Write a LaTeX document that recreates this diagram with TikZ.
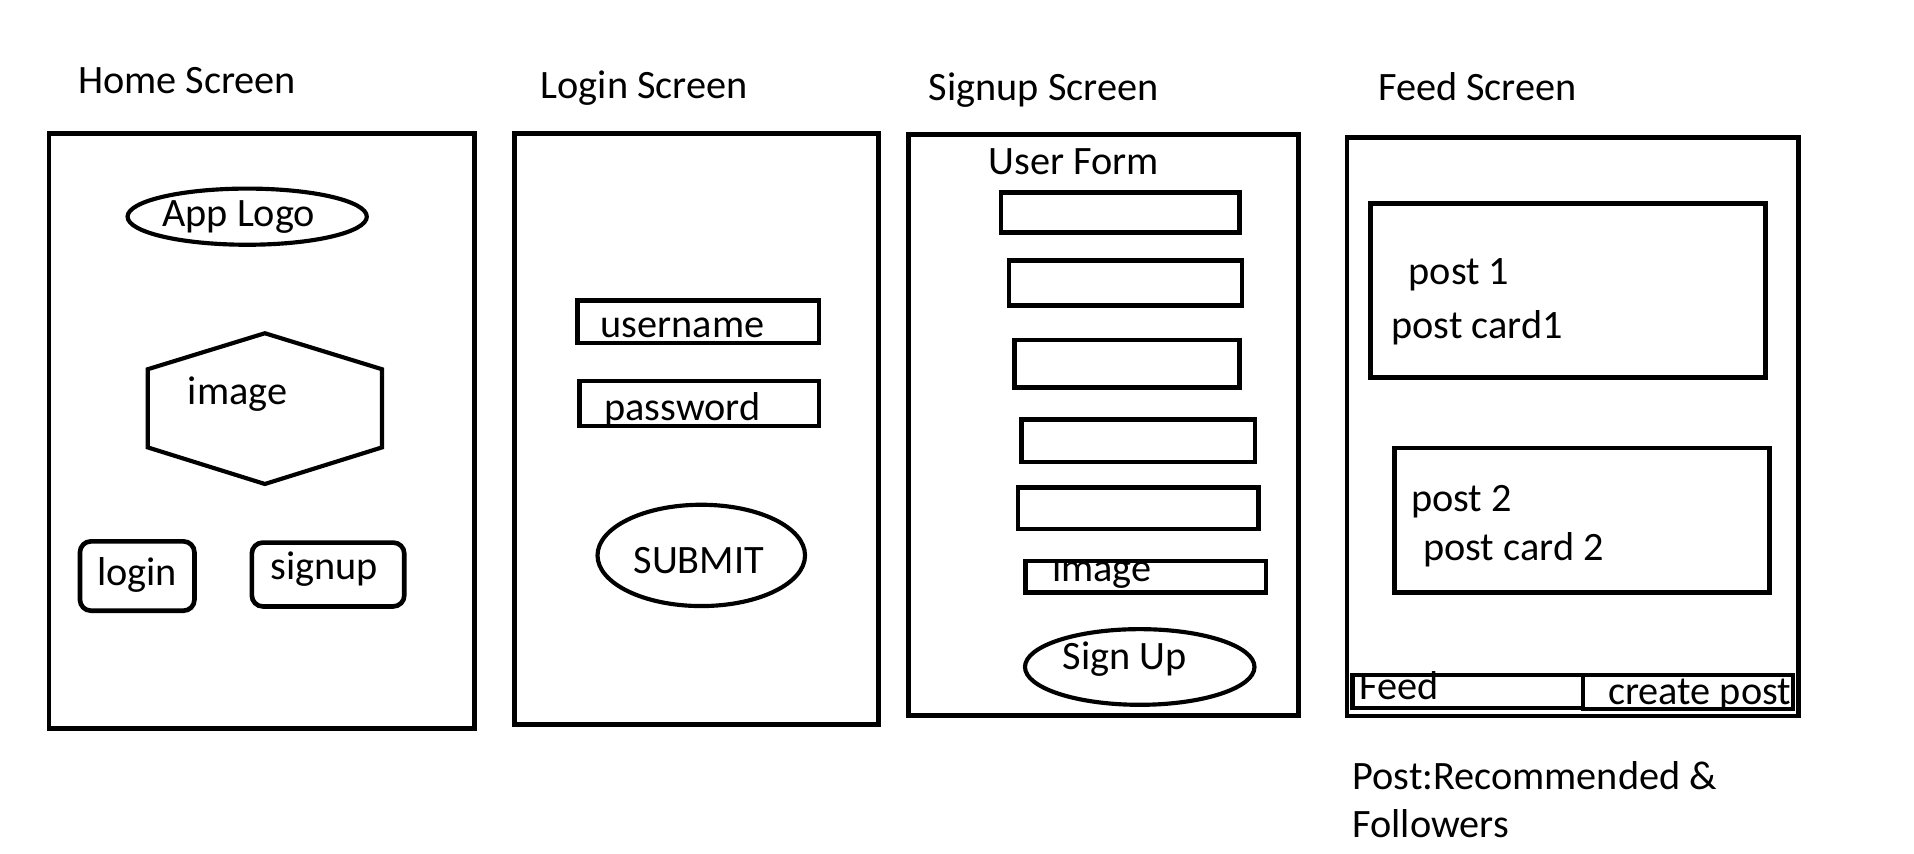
\documentclass[tikz,border=0pt]{standalone}
\usepackage{fontspec}
\setmainfont{Carlito}
\usetikzlibrary{shapes.geometric,fit}
\begin{document}
\begin{tikzpicture}[x=1pt,y=-1pt,
  lbl/.style={anchor=base west,inner sep=0pt,outer sep=0pt,font=\fontsize{33}{39}\selectfont},
  frame/.style={draw,line width=3.8pt,inner sep=0pt,outer sep=0pt},
  field/.style={draw,line width=3.8pt,inner sep=0pt,outer sep=0pt},
  tab/.style={draw,line width=3.4pt,inner sep=0pt,outer sep=0pt},
  pill/.style={field,rounded corners=9pt},
  oval/.style={draw,ellipse,line width=3.4pt,inner sep=0pt,outer sep=0pt},
  ]
\useasboundingbox (0,0) rectangle (1568,699);

% ---------------- Home screen ----------------
\node[lbl] (homeTitle) at (64,77) {Home Screen};
\node[frame,fit={(40,109.5) (388.8,596.6)}] (home) {};
\node[oval,minimum width=196pt,minimum height=46pt] (logo) at (202.5,177.5) {};
\node[lbl] (logoText) at (133,185.7) {App Logo};
\draw[line width=3.4pt,line join=miter]
  (217,273) -- (313,302.5) -- (313,366.5) -- (217,396.5)
  -- (121,366.5) -- (121,302.5) -- cycle;
\node[lbl] (heroText) at (154,331) {image};
\node[pill,fit={(65.5,443.5) (159.3,500.3)}] (loginBtn) {};
\node[lbl] (loginText) at (79.5,480) {login};
\node[pill,fit={(206.3,444.5) (331.2,496.8)}] (signupBtn) {};
\node[lbl] (signupText) at (221.5,475) {signup};

% ---------------- Login screen ----------------
\node[lbl] (loginTitle) at (443,80.5) {Login Screen};
\node[frame,fit={(421.5,109.5) (719.5,593.5)}] (login) {};
\node[field,fit={(473,246) (671,281)}] (userBox) {};
\node[lbl] (userText) at (492,276.5) {username};
\node[field,fit={(474.5,312) (671,349)}] (passBox) {};
\node[lbl] (passText) at (495,344.5) {password};
\node[oval,minimum width=170pt,minimum height=83pt] (submit) at (574.5,455) {};
\node[lbl] (submitText) at (519,469.5) {SUBMIT};

% ---------------- Signup screen ----------------
\node[lbl] (signupTitle) at (761,82.5) {Signup Screen};
\node[frame,fit={(744,110) (1064,586)}] (signup) {};
\node[lbl] (formText) at (810,143) {User Form};
\node[field,fit={(820,157.5) (1015.5,190.5)}] (f1) {};
\node[field,fit={(826.5,213.5) (1017.5,250.5)}] (f2) {};
\node[field,fit={(831,278.5) (1015.5,317.5)}] (f3) {};
\node[field,fit={(837,343.5) (1028,378.5)}] (f4) {};
\node[field,fit={(834,399.5) (1031,433.5)}] (f5) {};
\begin{scope}
  \clip (830,461) rectangle (1045,495);
  \node[lbl] (imgText) at (862,476.5) {image};
\end{scope}
\node[field,fit={(840.2,459.6) (1037.1,485.2)}] (f6) {};
\node[oval,minimum width=188pt,minimum height=62pt] (signBtn) at (933.7,546.4) {};
\node[lbl] (signText) at (870.5,548.5) {Sign Up};

% ---------------- Feed screen ----------------
\node[lbl] (feedTitle) at (1129,82) {Feed Screen};
\node[frame,fit={(1103.5,112.5) (1473.5,586.5)}] (feed) {};
\node[field,fit={(1122.5,166.5) (1446.5,309.5)}] (card1) {};
\node[lbl] (p1a) at (1154,233) {post 1};
\node[lbl] (p1b) at (1140,277.5) {post card1};
\node[field,fit={(1142.5,367) (1449.5,485.5)}] (card2) {};
\node[lbl] (p2a) at (1156,419) {post 2};
\node[lbl] (p2b) at (1166,459) {post card 2};
\node[tab,fit={(1108,552.7) (1297,579.7)}] (feedTab) {};
\node[tab,fit={(1297,552.7) (1469,580.5)}] (postTab) {};
\node[lbl] (feedTabText) at (1114,573.4) {Feed};
\node[lbl] (postTabText) at (1317.5,577) {create post};
\node[lbl] (note1) at (1108,646.5) {Post:Recommended \&};
\node[lbl] (note2) at (1108,686.5) {Followers};
\end{tikzpicture}
\end{document}
